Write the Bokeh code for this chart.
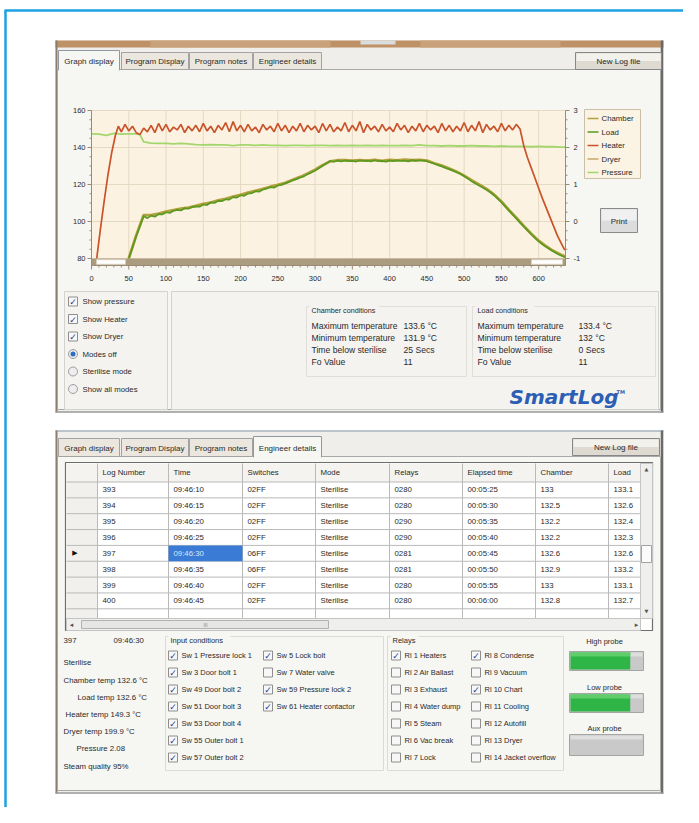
from bokeh.plotting import figure
from bokeh.models import Range1d
from bokeh.embed import file_html
from bokeh.resources import INLINE
from bokeh.core.properties import value

# ====================== DATA ======================
series_names = ["Chamber", "Load", "Heater", "Dryer", "Pressure"]
series_colors = ["#b3a03e", "#5a9a20", "#c9532b", "#c9a866", "#a3d76e"]

time_ticks = [0, 50, 100, 150, 200, 250, 300, 350, 400, 450, 500, 550, 600]
temp_ticks = [80, 100, 120, 140, 160]
pressure_ticks = [-1, 0, 1, 2, 3]

heater_t = [7, 12, 17, 22, 27, 32, 36] + list(range(40, 640, 5))
heater_v = [80, 96, 111, 125, 137, 146.5, 151.5,
            148.5, 152.5, 149, 151.5, 148, 147, 150.5, 148.5, 152, 148,
            153, 149, 152.5, 148.5, 151, 149.5, 152.5, 148, 151.5, 149,
            152, 148.5, 153, 149, 151.5, 148, 152, 149.5, 153.5, 148.5,
            154, 149, 152, 148.5, 152.5, 149, 151, 148, 152.5, 149.5,
            151.5, 148.5, 153, 149, 152, 148, 151.5, 149, 153, 148.5,
            152, 149.5, 151.5, 148, 153, 149, 152.5, 148.5, 151, 149,
            153.5, 148.5, 152, 149, 154, 148, 152.5, 149.5, 151.5, 148.5,
            152.5, 149, 151, 148.5, 153, 149.5, 152, 148, 151.5, 149,
            153, 148.5, 152, 149.5, 151.5, 148, 153, 149, 152, 148.5,
            151.5, 149, 153.5, 148.5, 152, 149, 154, 148, 152.5, 149.5,
            151.5, 148.5, 153, 149, 152, 149.5, 152.5,
            150, 141, 134.5, 129, 123.5, 118, 112.5, 107.5, 102.5, 97.5, 92.5, 88.5, 84.5]

load_t = list(range(50, 640, 5))
load_v = [80, 86, 92, 97.5, 103, 101.8, 103.2, 102.6, 104, 103.8,
          105, 104.6, 105.8, 106.3, 106, 107.2, 106.9, 107.8, 108.2, 108,
          109.2, 108.9, 110.4, 110, 111.2, 111, 112, 111.8, 113.2, 112.9,
          114.2, 113.9, 115.1, 115.3, 116.4, 116.1, 117.3, 117.8, 118.6, 118.3,
          119.5, 119.8, 120.6, 121.4, 122.3, 122.9, 123.8, 124.4, 125.6, 126.5,
          127.6, 128.8, 130.1, 131.3, 132.7, 132.3, 132.9, 132.5, 133, 132.6,
          132.8, 132.4, 133, 132.7, 132.9, 132.5, 133.1, 132.6, 132.8, 132.4,
          132.9, 132.6, 133, 132.7, 132.9, 132.5, 133.2, 132.8, 133.1, 132.9,
          132.6, 131.9, 131.2, 130.5, 129.8, 129, 128.3, 127.5, 126.6, 125.8,
          124.5, 123.2, 121.8, 120.5, 119.4, 118.4, 117.2, 115.8, 114.2, 112.4,
          110.4, 108.2, 106, 103.8, 101.6, 99.4, 97.3, 95.2, 93.1, 91.1,
          89.3, 87.7, 86.3, 85, 83.8, 82.6, 81.6, 80.7]

chamber_t = list(range(50, 640, 10)) + [636]
chamber_v = [80, 92.5, 103.5, 103.4, 104.3, 105.3, 106.2, 107, 107.5, 108.4,
             109.5, 110.2, 111.4, 112.3, 113.5, 114.4, 115.6, 116.6, 117.6, 118.8,
             119.8, 120.9, 122.5, 124.1, 126, 128, 130.4, 132.5, 133.1, 133.2,
             132.9, 133.2, 132.9, 133.3, 132.8, 133.3, 133, 133.4, 133.1, 133.3,
             132.9, 131.5, 130.2, 128.6, 126.9, 124.8, 122.3, 120, 117.6, 114.6,
             110.8, 106.2, 102, 97.6, 93.4, 89.6, 86.6, 84, 82,
             81]

pressure_t = [0, 10, 20, 30, 40, 50, 60, 65, 70] + list(range(80, 640, 10)) + [636]
pressure_v = [2.37, 2.36, 2.33, 2.38, 2.36, 2.37, 2.37, 2.35, 2.15,
              2.12, 2.11, 2.11, 2.10, 2.11, 2.10, 2.08, 2.07, 2.08, 2.07,
              2.07, 2.05, 2.07, 2.07, 2.06, 2.07, 2.06, 2.06, 2.05, 2.06,
              2.06, 2.05, 2.06, 2.06, 2.05, 2.06, 2.05, 2.06, 2.05, 2.06,
              2.05, 2.06, 2.05, 2.05, 2.06, 2.05, 2.07, 2.05, 2.05, 2.04,
              2.05, 2.04, 2.04, 2.05, 2.04, 2.04, 2.03, 2.04, 2.03, 2.03,
              2.03, 2.02, 2.03, 2.02, 2.02, 2.01,
              2.01]

tab_labels = ["Graph display", "Program Display", "Program notes", "Engineer details"]
show_options = ["Show pressure", "Show Heater", "Show Dryer"]
mode_options = ["Modes off", "Sterilise mode", "Show all modes"]
cond_labels = ["Maximum temperature", "Minimum temperature", "Time below sterilise", "Fo Value"]
chamber_cond = ["133.6 °C", "131.9 °C", "25 Secs", "11"]
load_cond = ["133.4 °C", "132 °C", "0 Secs", "11"]

table_headers = ["Log Number", "Time", "Switches", "Mode", "Relays", "Elapsed time", "Chamber", "Load"]
log_numbers = [393, 394, 395, 396, 397, 398, 399, 400]
log_times = ["09:46:10", "09:46:15", "09:46:20", "09:46:25", "09:46:30", "09:46:35", "09:46:40", "09:46:45"]
log_switches = ["02FF", "02FF", "02FF", "02FF", "06FF", "06FF", "02FF", "02FF"]
log_modes = ["Sterilise"] * 8
log_relays = ["0280", "0280", "0290", "0290", "0281", "0281", "0280", "0280"]
log_elapsed = ["00:05:25", "00:05:30", "00:05:35", "00:05:40", "00:05:45", "00:05:50", "00:05:55", "00:06:00"]
log_chamber = [133, 132.5, 132.2, 132.2, 132.6, 132.9, 133, 132.8]
log_load = [133.1, 132.6, 132.4, 132.3, 132.6, 133.2, 133.1, 132.7]
selected_row = 4

detail_lines = ["Sterilise", "Chamber temp 132.6 °C", "Load temp 132.6 °C", "Heater temp 149.3 °C",
                "Dryer temp  199.9 °C", "Pressure 2.08", "Steam quality 95%"]
inputs_col1 = ["Sw 1 Pressure lock 1", "Sw 3 Door bolt 1", "Sw 49 Door bolt 2", "Sw 51 Door bolt 3",
               "Sw 53 Door bolt 4", "Sw 55 Outer bolt 1", "Sw 57 Outer bolt 2"]
inputs_col1_on = [True, True, True, True, True, True, True]
inputs_col2 = ["Sw 5 Lock bolt", "Sw 7 Water valve", "Sw 59 Pressure lock 2", "Sw 61 Heater contactor"]
inputs_col2_on = [True, False, True, True]
relays_col1 = ["Rl 1 Heaters", "Rl 2 Air Ballast", "Rl 3 Exhaust", "Rl 4 Water dump", "Rl 5 Steam",
               "Rl 6 Vac break", "Rl 7 Lock"]
relays_col1_on = [True, False, False, False, False, False, False]
relays_col2 = ["Rl 8 Condense", "Rl 9 Vacuum", "Rl 10 Chart", "Rl 11 Cooling", "Rl 12 Autofill",
               "Rl 13 Dryer", "Rl 14 Jacket overflow"]
relays_col2_on = [True, False, True, False, False, False, False]
probe_names = ["High probe", "Low probe", "Aux probe"]
probe_levels = [0.83, 0.83, 0.0]

# ====================== FIGURE ======================
W, H = 683, 807
PX0, PX1 = 0, W
PY0, PY1 = 0, H
FONT = "Liberation Sans"
TXT = "#2a2a2a"

p = figure(width=W, height=H, x_range=Range1d(PX0, PX1), y_range=Range1d(PY1, PY0),
           output_backend="svg", toolbar_location=None, x_axis_type=None, y_axis_type=None,
           min_border=0, outline_line_color=None, background_fill_color="white",
           border_fill_color="white")


def lin_range(v0, p0, v1, p1, a, b):
    k = (v1 - v0) / (p1 - p0)
    return Range1d(start=v0 + (a - p0) * k, end=v0 + (b - p0) * k)


FX0, FX1, FY0, FY1 = 91, 565, 110, 258
T_MAX = 636
p.extra_x_ranges = {"t": lin_range(0, FX0, T_MAX, FX1, PX0, PX1)}
p.extra_y_ranges = {"temp": lin_range(80, FY1, 160, FY0, PY1, PY0),
                    "pres": lin_range(-1, FY1, 3, FY0, PY1, PY0)}


def L(v):
    return v if isinstance(v, list) else [v]


def T(x, y, s, size=8, color=TXT, align="left", font=FONT, style="normal", xr="default", yr="default"):
    s = L(s)
    x, y = L(x), L(y)
    if len(x) == 1 and len(s) > 1:
        x = x * len(s)
    if len(y) == 1 and len(s) > 1:
        y = y * len(s)
    p.text(x=x, y=y, text=s, text_font=value(font), text_font_size=f"{size}px",
           text_color=color, text_align=align, text_baseline="middle", text_font_style=style,
           x_range_name=xr, y_range_name=yr)


def R(x0, y0, x1, y1, fill, line=None, lw=1, xr="default", yr="default"):
    p.quad(left=L(x0), right=L(x1), top=L(y0), bottom=L(y1), fill_color=fill,
           line_color=line, line_width=lw, x_range_name=xr, y_range_name=yr)


def S(x0, y0, x1, y1, color, lw=1, xr="default", yr="default"):
    p.segment(x0=L(x0), y0=L(y0), x1=L(x1), y1=L(y1), line_color=color, line_width=lw,
              x_range_name=xr, y_range_name=yr)


def CB(x, y, on):
    R(x, y - 4.5, x + 9, y + 4.5, "#f7f7f7", "#8e8e8e")
    if on:
        T(x + 4.6, y + 0.5, "✓", size=9, color="#1f3f92", align="center", font="DejaVu Sans", style="bold")


def RB(x, y, on):
    p.scatter([x], [y], marker="circle", size=9, fill_color="#eeeeee", line_color="#9d9d9d")
    if on:
        p.scatter([x], [y], marker="circle", size=5, fill_color="#2f6fbf", line_color=None)


def button(x0, y0, x1, y1, label):
    R(x0, y0, x1, y1, "#dedad2", "#878787")
    R(x0 + 1, y0 + 1, x1 - 1, (y0 + y1) / 2, "#f3f1ec")
    T((x0 + x1) / 2, (y0 + y1) / 2 + 0.5, label, size=8, align="center")


TAB_X = [(58, 119), (121, 188), (189, 252), (253, 321)]


def tabstrip(y0, y1, active, page_fill):
    for i, (a, b) in enumerate(TAB_X):
        if i == active:
            R(a, y0 - 2, b, y1 + 0.5, page_fill, "#8e99a3")
            R(a + 0.6, y1 - 1, b - 0.6, y1 + 1.5, page_fill)
        else:
            R(a, y0, b, y1, "#ebe7de", "#a3a3a3")
        T((a + b) / 2, (y0 + y1) / 2 + 0.5, tab_labels[i], size=8, align="center")


def window(y0, y1, band):
    R(55, y0, 663, y1, "#efeeea")
    if band:
        R(55, y0, 663, y0 + 7, "#bf9166")
        R(150, y0, 330, y0 + 7, "#c9a27c")
        R(420, y0, 560, y0 + 7, "#c9a27c")
        R(360, y0, 395, y0 + 4, "#d9dde0")
    else:
        S(55, y0 + 0.5, 663, y0 + 0.5, "#a9b4bf", 1.5)
    S(56, y0, 56, y1, "#8f7c6c", 2)
    S(661.5, y0, 661.5, y1, "#6a6a6a", 2.5)
    S(55, y1 - 0.5, 663, y1 - 0.5, "#9a9a9a", 1.5)


PAGE = "#f6f6f3"

# blue frame
S(4, 10, PX1, 10, "#1ba2e2", 2.5)
S(5, 10, 5, PY1, "#1ba2e2", 2.5)

# ---------------- top window: graph display ----------------
window(40, 412, True)
R(57, 69, 660, 409, PAGE, "#a8a8a8")
tabstrip(52, 69, 0, PAGE)
button(575, 52, 661, 69, "New Log file")

# chart frame + grid (data coordinates)
R(0, 160, T_MAX, 80, "#fbf2e1", None, xr="t", yr="temp")
GRID = "#e6d9c3"
S(time_ticks, [80] * len(time_ticks), time_ticks, [160] * len(time_ticks), GRID, 1, xr="t", yr="temp")
S([0] * len(temp_ticks), temp_ticks, [T_MAX] * len(temp_ticks), temp_ticks, GRID, 1, xr="t", yr="temp")

# series
p.line(pressure_t, pressure_v, line_color=series_colors[4], line_width=1.8, x_range_name="t", y_range_name="pres")
p.line(chamber_t, chamber_v, line_color=series_colors[0], line_width=2.8, x_range_name="t", y_range_name="temp")
p.line(load_t, load_v, line_color=series_colors[1], line_width=1.7, x_range_name="t", y_range_name="temp")
p.line(heater_t, heater_v, line_color=series_colors[2], line_width=1.7, x_range_name="t", y_range_name="temp")

# scrollbar strip under the frame
AXC = "#9b8a74"
R(0, FY1, T_MAX, FY1 + 7, "#ab9c80", None, xr="t")
R(96, FY1 + 1.2, 125, FY1 + 5.8, "#ffffff", "#d8d0c0")
R(531, FY1 + 1.2, 562, FY1 + 5.8, "#ffffff", "#d8d0c0")

# left axis
S(FX0, FY0, FX0, FY1 + 7, AXC, 1)
S([FX0 - 4] * len(temp_ticks), temp_ticks, [FX0] * len(temp_ticks), temp_ticks, AXC, 1, yr="temp")
minor_t = [v for v in range(80, 161, 5) if v % 20]
S([FX0 - 2] * len(minor_t), minor_t, [FX0] * len(minor_t), minor_t, AXC, 1, yr="temp")
T([FX0 - 6] * len(temp_ticks), temp_ticks, [str(v) for v in temp_ticks], size=7.5, align="right", yr="temp")

# right axis
S(FX1, FY0, FX1, FY1 + 7, AXC, 1)
S([FX1] * len(pressure_ticks), pressure_ticks, [FX1 + 4] * len(pressure_ticks), pressure_ticks, AXC, 1, yr="pres")
minor_p = [q / 4 for q in range(-4, 13) if q % 4]
S([FX1] * len(minor_p), minor_p, [FX1 + 2] * len(minor_p), minor_p, AXC, 1, yr="pres")
T([FX1 + 8] * len(pressure_ticks), pressure_ticks, [str(v) for v in pressure_ticks], size=7.5, yr="pres")

# bottom axis
S(FX0, FY1 + 7, FX1, FY1 + 7, AXC, 1)
S(time_ticks, [FY1 + 7] * len(time_ticks), time_ticks, [FY1 + 11] * len(time_ticks), AXC, 1, xr="t")
minor_x = [v for v in range(10, T_MAX, 10) if v % 50]
S(minor_x, [FY1 + 7] * len(minor_x), minor_x, [FY1 + 9] * len(minor_x), AXC, 1, xr="t")
T(time_ticks, [FY1 + 20] * len(time_ticks), [str(v) for v in time_ticks], size=7.5, align="center", xr="t")

# legend
R(584, 109, 640, 178, "#fbf3e4", "#cbbfa8")
for i, (nm, col) in enumerate(zip(series_names, series_colors)):
    yy = 118 + 13.5 * i
    S(587, yy, 598, yy, col, 1.5)
    T(601, yy, nm, size=7.8)

# print button
R(600, 208, 637, 232, "#dcdcdc", "#8a8a8a")
R(601, 209, 636, 220, "#f0f0f0")
T(618.5, 220.5, "Print", size=8, align="center")

# sub panels
R(64, 291, 167, 409, "#f4f3f0", "#d4d2cc")
R(171, 291, 658, 409, "#f4f3f0", "#d4d2cc")
for i, nm in enumerate(show_options):
    CB(68, 301 + 17.5 * i, True)
    T(82, 301 + 17.5 * i, nm, size=7.8)
for i, nm in enumerate(mode_options):
    RB(72.5, 353.5 + 17.5 * i, i == 0)
    T(82, 353.5 + 17.5 * i, nm, size=7.8)


def cond_group(x0, x1, title, vx, vals):
    R(x0, 306, x1, 376, None, "#e0ded8")
    R(x0 + 3, 303, x0 + 8 + len(title) * 3.6, 309, "#f4f3f0")
    T(x0 + 5, 309.5, title, size=7.2)
    for j, (lab, v) in enumerate(zip(cond_labels, vals)):
        T(x0 + 5, 325 + 12 * j, lab, size=8.6)
        T(vx, 325 + 12 * j, v, size=8.6)


cond_group(306, 466, "Chamber conditions", 403, chamber_cond)
cond_group(472, 655, "Load conditions", 578, load_cond)

T(509, 396, "SmartLog", size=20, color="#2c5fb3", font="DejaVu Sans", style="bold italic")
T(616, 391, "TM", size=5, color="#2c5fb3", font="DejaVu Sans", style="bold")

# ---------------- bottom window: engineer details ----------------
window(430, 793, False)
R(57, 456, 660, 790, PAGE, "#a8a8a8")
tabstrip(438, 456, 3, PAGE)
button(572, 438, 659, 455, "New Log file")

COL_EDGES = [66, 97, 168, 242, 315, 389, 462, 535, 608, 640]
ROW0, ROWH = 481.5, 15.85
nrows = len(log_numbers)
R(65, 462, 652, 630, "#ffffff", "#6e6e6e", 1.2)
R(66, 463, 640, ROW0, "#f4f3ef")
R(66, ROW0, COL_EDGES[1], 618, "#f1f0ec")
row_lines = [ROW0 + ROWH * k for k in range(nrows + 1)]
S([66] * len(row_lines), row_lines, [640] * len(row_lines), row_lines, "#b9b9b9", 1)
S(COL_EDGES[1:], [463] * 9, COL_EDGES[1:], [618] * 9, "#b9b9b9", 1)
# selection
R(COL_EDGES[2], ROW0 + ROWH * selected_row, COL_EDGES[3], ROW0 + ROWH * (selected_row + 1), "#3a7bd5")
T(74.5, ROW0 + ROWH * (selected_row + 0.5), "▶", size=7, color="#111111", align="center", font="DejaVu Sans")
T([e + 5 for e in COL_EDGES[1:-1]], [472] * 8, table_headers, size=7.8)
columns = [[str(v) for v in log_numbers], log_times, log_switches, log_modes, log_relays, log_elapsed,
           [f"{v:g}" for v in log_chamber], [f"{v:g}" for v in log_load]]
row_y = [ROW0 + ROWH * (k + 0.5) for k in range(nrows)]
for ci, col in enumerate(columns):
    cols = ["#d8e6f8" if (ci == 1 and k == selected_row) else TXT for k in range(nrows)]
    p.text(x=[COL_EDGES[ci + 1] + 5] * nrows, y=row_y, text=col, text_font=value(FONT),
           text_font_size="7.8px", text_color=cols, text_baseline="middle")
# scrollbars
R(640, 463, 652, 618, "#efefed", "#c4c4c4")
T(646, 468, "▲", size=5, color="#555555", align="center", font="DejaVu Sans")
T(646, 610, "▼", size=5, color="#555555", align="center", font="DejaVu Sans")
R(641, 545, 651, 562, "#fbfbfb", "#a2a2a2")
R(66, 618, 640, 630, "#efefed", "#c4c4c4")
R(81, 620, 328, 628, "#e6e6e4", "#b2b2b2")
T(71, 624, "◂", size=7, color="#555555", align="center", font="DejaVu Sans")
T(636, 624, "▸", size=7, color="#555555", align="center", font="DejaVu Sans")
T(205, 624, "III", size=5, color="#888888", align="center")

# details text
T(63, 640, str(log_numbers[selected_row]), size=7.8)
T(113, 640, log_times[selected_row], size=7.8)
det_x = [63, 63, 77, 65, 63, 76, 63]
det_y = [662, 680, 697, 714, 731, 748, 766]
T(det_x, det_y, detail_lines, size=7.8)

# input conditions group
R(165, 636, 383, 770, None, "#dcdad4")
R(168, 633, 230, 640, PAGE)
T(170, 640, "Input conditions", size=7.5)
ROWS_Y = [655 + 17 * k for k in range(7)]
for k, (nm, on) in enumerate(zip(inputs_col1, inputs_col1_on)):
    CB(168, ROWS_Y[k], on)
    T(181, ROWS_Y[k], nm, size=7.5)
for k, (nm, on) in enumerate(zip(inputs_col2, inputs_col2_on)):
    CB(263, ROWS_Y[k], on)
    T(276, ROWS_Y[k], nm, size=7.5)

# relays group
R(387, 636, 563, 770, None, "#dcdad4")
R(390, 633, 418, 640, PAGE)
T(392, 640, "Relays", size=7.5)
for k, (nm, on) in enumerate(zip(relays_col1, relays_col1_on)):
    CB(391, ROWS_Y[k], on)
    T(404, ROWS_Y[k], nm, size=7.5)
for k, (nm, on) in enumerate(zip(relays_col2, relays_col2_on)):
    CB(471, ROWS_Y[k], on)
    T(484, ROWS_Y[k], nm, size=7.5)

# probes
probe_title_y = [641, 687, 728]
probe_bar_y = [(651, 670), (693, 712), (734, 755)]
for nm, lvl, ty, (b0, b1) in zip(probe_names, probe_levels, probe_title_y, probe_bar_y):
    T(604, ty, nm, size=7.5, align="center")
    R(569, b0, 643, b1, "#c9c9c9", "#a5a5a5")
    R(570, b0 + 1, 642, b0 + 5, "#dedede")
    if lvl > 0:
        gx = 570 + (642 - 570) * lvl
        R(570, b0 + 1, gx, b1 - 1, "#2fb545")
        R(570, b0 + 1, gx, b0 + 5, "#5fcd6a")

open("out.html", "w").write(file_html(p, INLINE))
